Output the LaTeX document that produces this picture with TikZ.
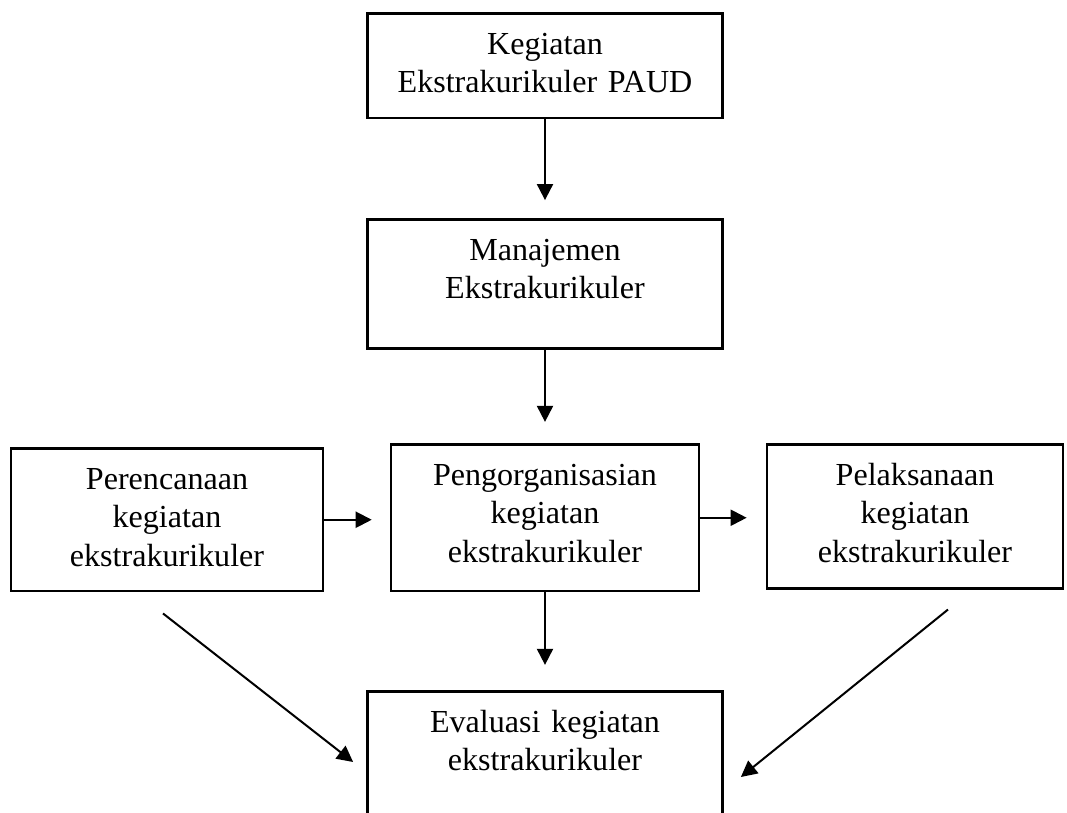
\documentclass[tikz,border=0pt]{standalone}
\usepackage{fontspec}
\setmainfont{Liberation Serif}
\usetikzlibrary{arrows.meta}
\tikzset{
  box/.style={draw, line width=1pt, anchor=north, inner sep=0pt, align=center,
    font=\fontsize{12}{14.4}\selectfont, text height=15.3pt},
  arrow/.style={line width=0.75pt, -{Triangle[length=6pt,width=6pt]}}
}
\begin{document}
\begin{tikzpicture}[x=0.374pt, y=-0.374pt]
        \useasboundingbox (0,0) rectangle (1067,812);
        \node[box, text width=132.8pt, text depth=23.9pt] (kegiatan) at (545,12) {Kegiatan\\Ekstrakurikuler PAUD};
        \node[box, text width=132.8pt, text depth=32.9pt] (manajemen) at (545,218) {Manajemen\\Ekstrakurikuler};
        \node[box, text width=115.2pt, text depth=39.6pt] (pengorganisasian) at (545,443) {Pengorganisasian\\kegiatan\\ekstrakurikuler};
        \node[box, text width=116.7pt, text depth=38.1pt] (perencanaan) at (167,447) {Perencanaan\\kegiatan\\ekstrakurikuler};
        \node[box, text width=110.7pt, text depth=38.5pt] (pelaksanaan) at (915,443) {Pelaksanaan\\kegiatan\\ekstrakurikuler};
        \node[box, text width=132.8pt, text depth=49pt] (evaluasi) at (545,690) {Evaluasi kegiatan\\ekstrakurikuler};

        \path[draw,arrow,shorten >=6.7pt] (kegiatan.south) -- (manajemen.north);
        \path[draw,arrow,shorten >=7.9pt] (manajemen.south) -- (pengorganisasian.north);
        \path[draw,arrow,shorten >=9.4pt] (pengorganisasian.south) -- (evaluasi.north);
        \path[draw,arrow,shorten >=6.7pt] (perencanaan.east) -- (perencanaan.east -| pengorganisasian.west);
        \path[draw,arrow,shorten >=7.1pt] (pengorganisasian.east) -- (pengorganisasian.east -| pelaksanaan.west);
        \path[draw,arrow] ([shift={(-4,21)}]perencanaan.south) -- ([shift={(-13,72)}]evaluasi.north west);
        \path[draw,arrow] ([shift={(33,20)}]pelaksanaan.south) -- ([shift={(17,87)}]evaluasi.north east);
\end{tikzpicture}
\end{document}
